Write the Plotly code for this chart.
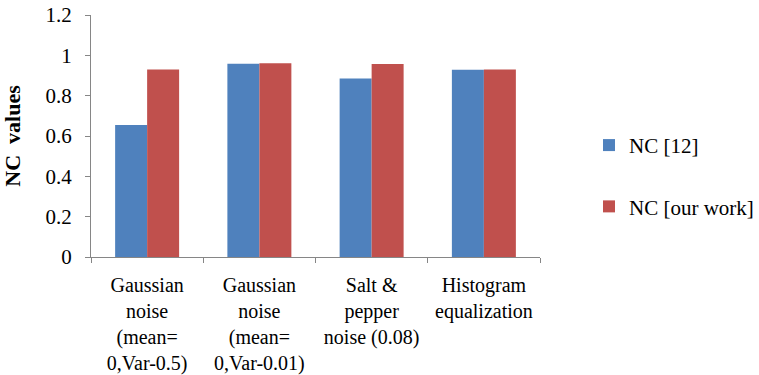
import plotly.graph_objects as go

categories = [
    "Gaussian<br>noise<br>(mean=<br>0,Var-0.5)",
    "Gaussian<br>noise<br>(mean=<br>0,Var-0.01)",
    "Salt &amp;<br>pepper<br>noise (0.08)",
    "Histogram<br>equalization",
]
nc_12 = [0.655, 0.958, 0.885, 0.929]
nc_ours = [0.930, 0.961, 0.957, 0.930]
series_names = ["NC [12]", "NC [our work]"]
colors = ["#4F81BD", "#C0504D"]
y_ticks = [0, 0.2, 0.4, 0.6, 0.8, 1, 1.2]

font = "Liberation Serif"

fig = go.Figure()
for i, (name, vals) in enumerate(zip(series_names, [nc_12, nc_ours])):
    fig.add_trace(go.Bar(
        x=categories, y=vals, name=name, legendgroup=f"g{i}",
        marker=dict(color=colors[i], line=dict(width=0)),
    ))

fig.update_layout(
    width=759, height=375,
    margin=dict(l=91, r=0, t=15, b=118),
    paper_bgcolor="white", plot_bgcolor="white",
    barmode="group", bargap=0.43, bargroupgap=0,
    font=dict(family=font, size=21, color="#000000"),
    showlegend=True,
    legend=dict(
        x=1.0, xanchor="right", y=0.335, yanchor="middle",
        font=dict(family=font, size=21, color="#000000"),
        tracegroupgap=31, itemwidth=30,
    ),
    xaxis=dict(
        domain=[0, 449 / 668],
        showline=True, linecolor="#868686", linewidth=1,
        ticks="outside", tickson="boundaries", ticklen=5, tickcolor="#868686",
        showgrid=False, tickangle=0, automargin=False,
        ticklabelstandoff=10,
        tickfont=dict(family=font, size=20),
    ),
    yaxis=dict(
        range=[0, 1.2], tickvals=y_ticks,
        showline=True, linecolor="#868686", linewidth=1,
        ticks="outside", ticklen=5, tickcolor="#868686",
        showgrid=False, zeroline=False, automargin=False,
        ticklabelstandoff=9,
        tickfont=dict(family=font, size=21),
        title=dict(text="<b>NC  values</b>", font=dict(family=font, size=22), standoff=18),
    ),
)

fig.write_html("out.html")
